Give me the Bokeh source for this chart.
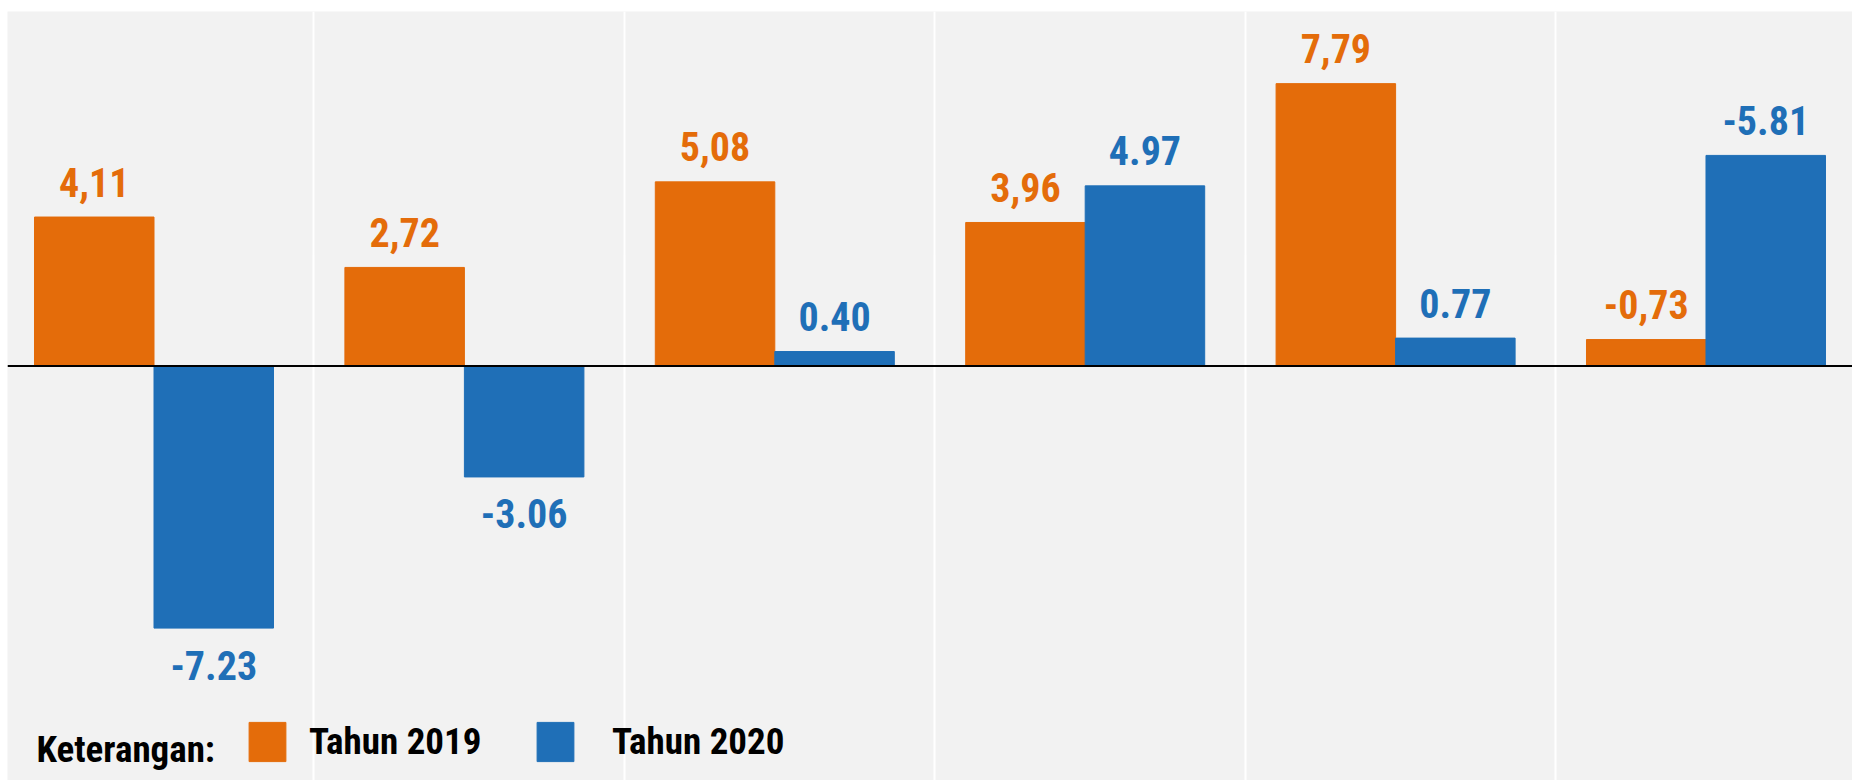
from bokeh.plotting import figure
from bokeh.models import ColumnDataSource, Range1d, FixedTicker, Span, Label, Legend, LegendItem
from bokeh.transform import dodge
from bokeh.core.properties import value
from bokeh.embed import file_html
from bokeh.resources import INLINE

# ---- data ----
groups = [0, 1, 2, 3, 4, 5]
series_names = ["Tahun 2019", "Tahun 2020"]
values_2019 = [4.11, 2.72, 5.08, 3.96, 7.79, 0.73]     # bar heights as drawn
values_2020 = [-7.23, -3.06, 0.40, 4.97, 0.77, 5.81]   # bar heights as drawn
labels_2019 = ["4,11", "2,72", "5,08", "3,96", "7,79", "-0,73"]
labels_2020 = ["-7.23", "-3.06", "0.40", "4.97", "0.77", "-5.81"]
legend_title = "Keterangan:"

ORANGE = "#E46C0A"
BLUE = "#1F6FB7"
FONT = "'Roboto Condensed', 'DejaVu Sans Condensed', 'Liberation Sans Narrow', 'Liberation Sans'"
BAR_W = 0.385
OFF = 0.1925

src = ColumnDataSource(dict(
    g=groups, v19=values_2019, v20=values_2020,
    l19=labels_2019, l20=labels_2020,
))

W, H = 1852, 780
p = figure(width=W, height=H, output_backend="svg", toolbar_location=None,
           x_range=Range1d(-0.472, 5.472), y_range=Range1d(-11.434, 9.78),
           min_border_left=7, min_border_right=0, min_border_top=11, min_border_bottom=0,
           background_fill_color="#F2F2F2", border_fill_color="white")
p.outline_line_color = None
p.xaxis.visible = False
p.yaxis.visible = False
p.ygrid.grid_line_color = None
p.xgrid.ticker = FixedTicker(ticks=[g - 0.5 + 0.015 for g in groups[1:]])
p.xgrid.grid_line_color = "white"
p.xgrid.grid_line_width = 2
p.xgrid.grid_line_alpha = 1

r19 = p.vbar(x=dodge("g", -OFF, range=p.x_range), top="v19", bottom=0, width=BAR_W,
             source=src, fill_color=ORANGE, line_color=ORANGE)
r20 = p.vbar(x=dodge("g", OFF, range=p.x_range), top="v20", bottom=0, width=BAR_W,
             source=src, fill_color=BLUE, line_color=BLUE)

p.add_layout(Span(location=0, dimension="width", line_color="black", line_width=2))

# value labels
pos19 = ColumnDataSource(dict(g=[g for g, v in zip(groups, values_2019) if v >= 0],
                              v=[v for v in values_2019 if v >= 0],
                              t=[t for t, v in zip(labels_2019, values_2019) if v >= 0]))
pos20 = ColumnDataSource(dict(g=[g for g, v in zip(groups, values_2020) if v >= 0],
                              v=[v for v in values_2020 if v >= 0],
                              t=[t for t, v in zip(labels_2020, values_2020) if v >= 0]))
neg20 = ColumnDataSource(dict(g=[g for g, v in zip(groups, values_2020) if v < 0],
                              v=[v for v in values_2020 if v < 0],
                              t=[t for t, v in zip(labels_2020, values_2020) if v < 0]))

common = dict(text_font=value(FONT), text_font_style="bold", text_font_size="40px",
              text_align="center", text_baseline="alphabetic")
p.text(x=dodge("g", -OFF, range=p.x_range), y="v", text="t", source=pos19,
       text_color=ORANGE, y_offset=-35, **common)
p.text(x=dodge("g", OFF, range=p.x_range), y="v", text="t", source=pos20,
       text_color=BLUE, y_offset=-35, **common)
p.text(x=dodge("g", OFF, range=p.x_range), y="v", text="t", source=neg20,
       text_color=BLUE, y_offset=37, **common)

# legend (one Legend per entry so that each keeps its own spacing)
leg_style = dict(orientation="horizontal", glyph_width=46, glyph_height=49,
                 padding=0, margin=0,
                 label_text_font=FONT, label_text_font_style="bold",
                 label_text_font_size="37px", label_text_color="black",
                 background_fill_alpha=0, border_line_alpha=0)
p.add_layout(Legend(items=[LegendItem(label=series_names[0], renderers=[r19])],
                    location=(237, 14), label_standoff=19, **leg_style))
p.add_layout(Legend(items=[LegendItem(label=series_names[1], renderers=[r20])],
                    location=(525, 14), label_standoff=34, **leg_style))

p.add_layout(Label(x=29, y=31, x_units="screen", y_units="screen", text=legend_title,
                   text_font=FONT, text_font_style="bold", text_font_size="37px",
                   text_color="black", text_baseline="alphabetic"))

open("out.html", "w").write(file_html(p, INLINE))
